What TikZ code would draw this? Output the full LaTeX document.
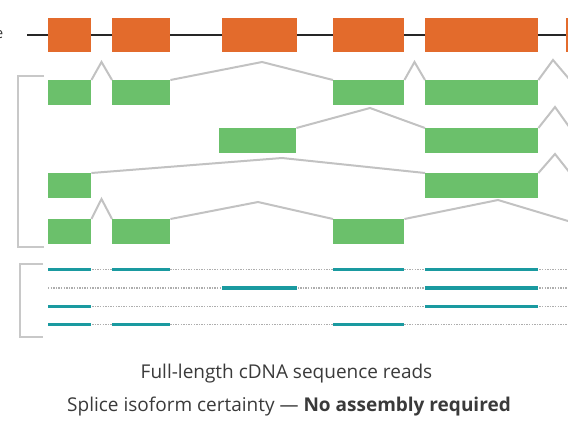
\documentclass[tikz,border=0pt]{standalone}
\usepackage{fontspec}
\setmainfont{Open Sans}
\definecolor{exorange}{HTML}{E36B2C}
\definecolor{exgreen}{HTML}{6BC06B}
\definecolor{readteal}{HTML}{1A9AA0}
\definecolor{introngray}{HTML}{C2C2C2}
\definecolor{bracketgray}{HTML}{C8C8C8}
\definecolor{dotgray}{HTML}{AEAEAE}
\definecolor{txtgray}{HTML}{3A3A3A}
\tikzset{
  oexon/.style={fill=exorange, draw=none, inner sep=0pt, minimum height=34pt, anchor=north west},
  gexon/.style={fill=exgreen, draw=none, inner sep=0pt, minimum height=24.5pt, anchor=north west},
  intron/.style={draw=introngray, line width=2pt, line join=miter},
  genomeline/.style={draw=black!85, line width=2.2pt},
  bracket/.style={draw=bracketgray, line width=2.6pt},
  readdot/.style={draw=dotgray, line width=1.1pt, dash pattern=on 1.4pt off 1.2pt},
  readseg/.style={draw=readteal, line width=3.4pt},
  caption/.style={font=\fontsize{19}{22}\selectfont, text=txtgray, anchor=base, inner sep=0pt}
}
\begin{document}
\begin{tikzpicture}[x=1pt,y=-1pt]
\useasboundingbox (0,0) rectangle (568,426);
% --- gene model ---
\coordinate (gstart) at (27,35);
\coordinate (gend) at (570,35);
\draw[genomeline] (gstart) -- (gend);
\node[oexon, minimum width=43pt] (o1) at (48,18) {};
\node[oexon, minimum width=58pt] (o2) at (112,18) {};
\node[oexon, minimum width=75pt] (o3) at (222,18) {};
\node[oexon, minimum width=71pt] (o4) at (333,18) {};
\node[oexon, minimum width=113pt] (o5) at (425,18) {};
\node[oexon, minimum width=50pt] (o6) at (566,18) {};
\node[anchor=base east, inner sep=0pt, font=\fontsize{15}{18}\selectfont, text=txtgray] (glabel) at (3.5,38) {e};
% --- transcripts bracket ---
\coordinate (b1a) at (44,76);
\coordinate (b1b) at (18,76);
\coordinate (b1c) at (18,247);
\coordinate (b1d) at (44,247);
\draw[bracket] (b1a) -- (b1b) -- (b1c) -- (b1d);
% row 1
\node[gexon, minimum width=43pt] (a1) at (48,80) {};
\node[gexon, minimum width=58pt] (a2) at (112,80) {};
\node[gexon, minimum width=71pt] (a4) at (333,80) {};
\node[gexon, minimum width=113pt] (a5) at (425,80) {};
\node[gexon, minimum width=50pt] (a6) at (570,80) {};
\coordinate (pa1) at (101.5,62);
\coordinate (pa2) at (262,62);
\coordinate (pa4) at (414.5,62);
\coordinate (pa5) at (553,60);
\draw[intron] (a1.north east) -- (pa1) -- (a2.north west);
\draw[intron] (a2.north east) -- (pa2) -- (a4.north west);
\draw[intron] (a4.north east) -- (pa4) -- (a5.north west);
\draw[intron] (a5.north east) -- (pa5) -- (a6.north west);
% row 2
\node[gexon, minimum width=77pt] (c3) at (219,128) {};
\node[gexon, minimum width=113pt] (c5) at (425,128) {};
\node[gexon, minimum width=50pt] (c6) at (570,128) {};
\coordinate (pc3) at (370,108);
\coordinate (pc5) at (555,107);
\draw[intron] (c3.north east) -- (pc3) -- (c5.north west);
\draw[intron] (c5.north east) -- (pc5) -- (c6.north west);
% row 3
\node[gexon, minimum width=43pt] (d1) at (48,173) {};
\node[gexon, minimum width=113pt] (d5) at (425,173) {};
\node[gexon, minimum width=50pt] (d6) at (570,173) {};
\coordinate (pd1) at (282,158);
\coordinate (pd5) at (555,154);
\draw[intron] (d1.north east) -- (pd1) -- (d5.north west);
\draw[intron] (d5.north east) -- (pd5) -- (d6.north west);
% row 4
\node[gexon, minimum width=43pt] (e1) at (48,219) {};
\node[gexon, minimum width=58pt] (e2) at (112,219) {};
\node[gexon, minimum width=71pt] (e4) at (333,219) {};
\node[gexon, minimum width=50pt] (e6) at (568,221) {};
\coordinate (pe1) at (101.5,199);
\coordinate (pe2) at (258,202);
\coordinate (pe4) at (498,200);
\draw[intron] (e1.north east) -- (pe1) -- (e2.north west);
\draw[intron] (e2.north east) -- (pe2) -- (e4.north west);
\draw[intron] (e4.north east) -- (pe4) -- (e6.north west);
% --- reads bracket ---
\coordinate (b2a) at (43,264);
\coordinate (b2b) at (20,264);
\coordinate (b2c) at (20,337);
\coordinate (b2d) at (43,337);
\draw[bracket] (b2a) -- (b2b) -- (b2c) -- (b2d);
% reads
\foreach \yy in {269.5,288,306.5,324.5} \draw[readdot] (48,\yy) -- (570,\yy);
\draw[readseg] (48,269.5) -- (91,269.5) (112,269.5) -- (170,269.5) (333,269.5) -- (404,269.5) (425,269.5) -- (538,269.5);
\draw[readseg] (222,288) -- (297,288) (425,288) -- (538,288);
\draw[readseg] (48,306.5) -- (91,306.5) (425,306.5) -- (538,306.5);
\draw[readseg] (48,324.5) -- (91,324.5) (112,324.5) -- (170,324.5) (333,324.5) -- (404,324.5);
% captions
\node[caption] (cap1) at (286.5,378) {Full-length cDNA sequence reads};
\node[caption] (cap2) at (289,411) {Splice isoform certainty --- \textbf{No assembly required}};
\end{tikzpicture}
\end{document}
